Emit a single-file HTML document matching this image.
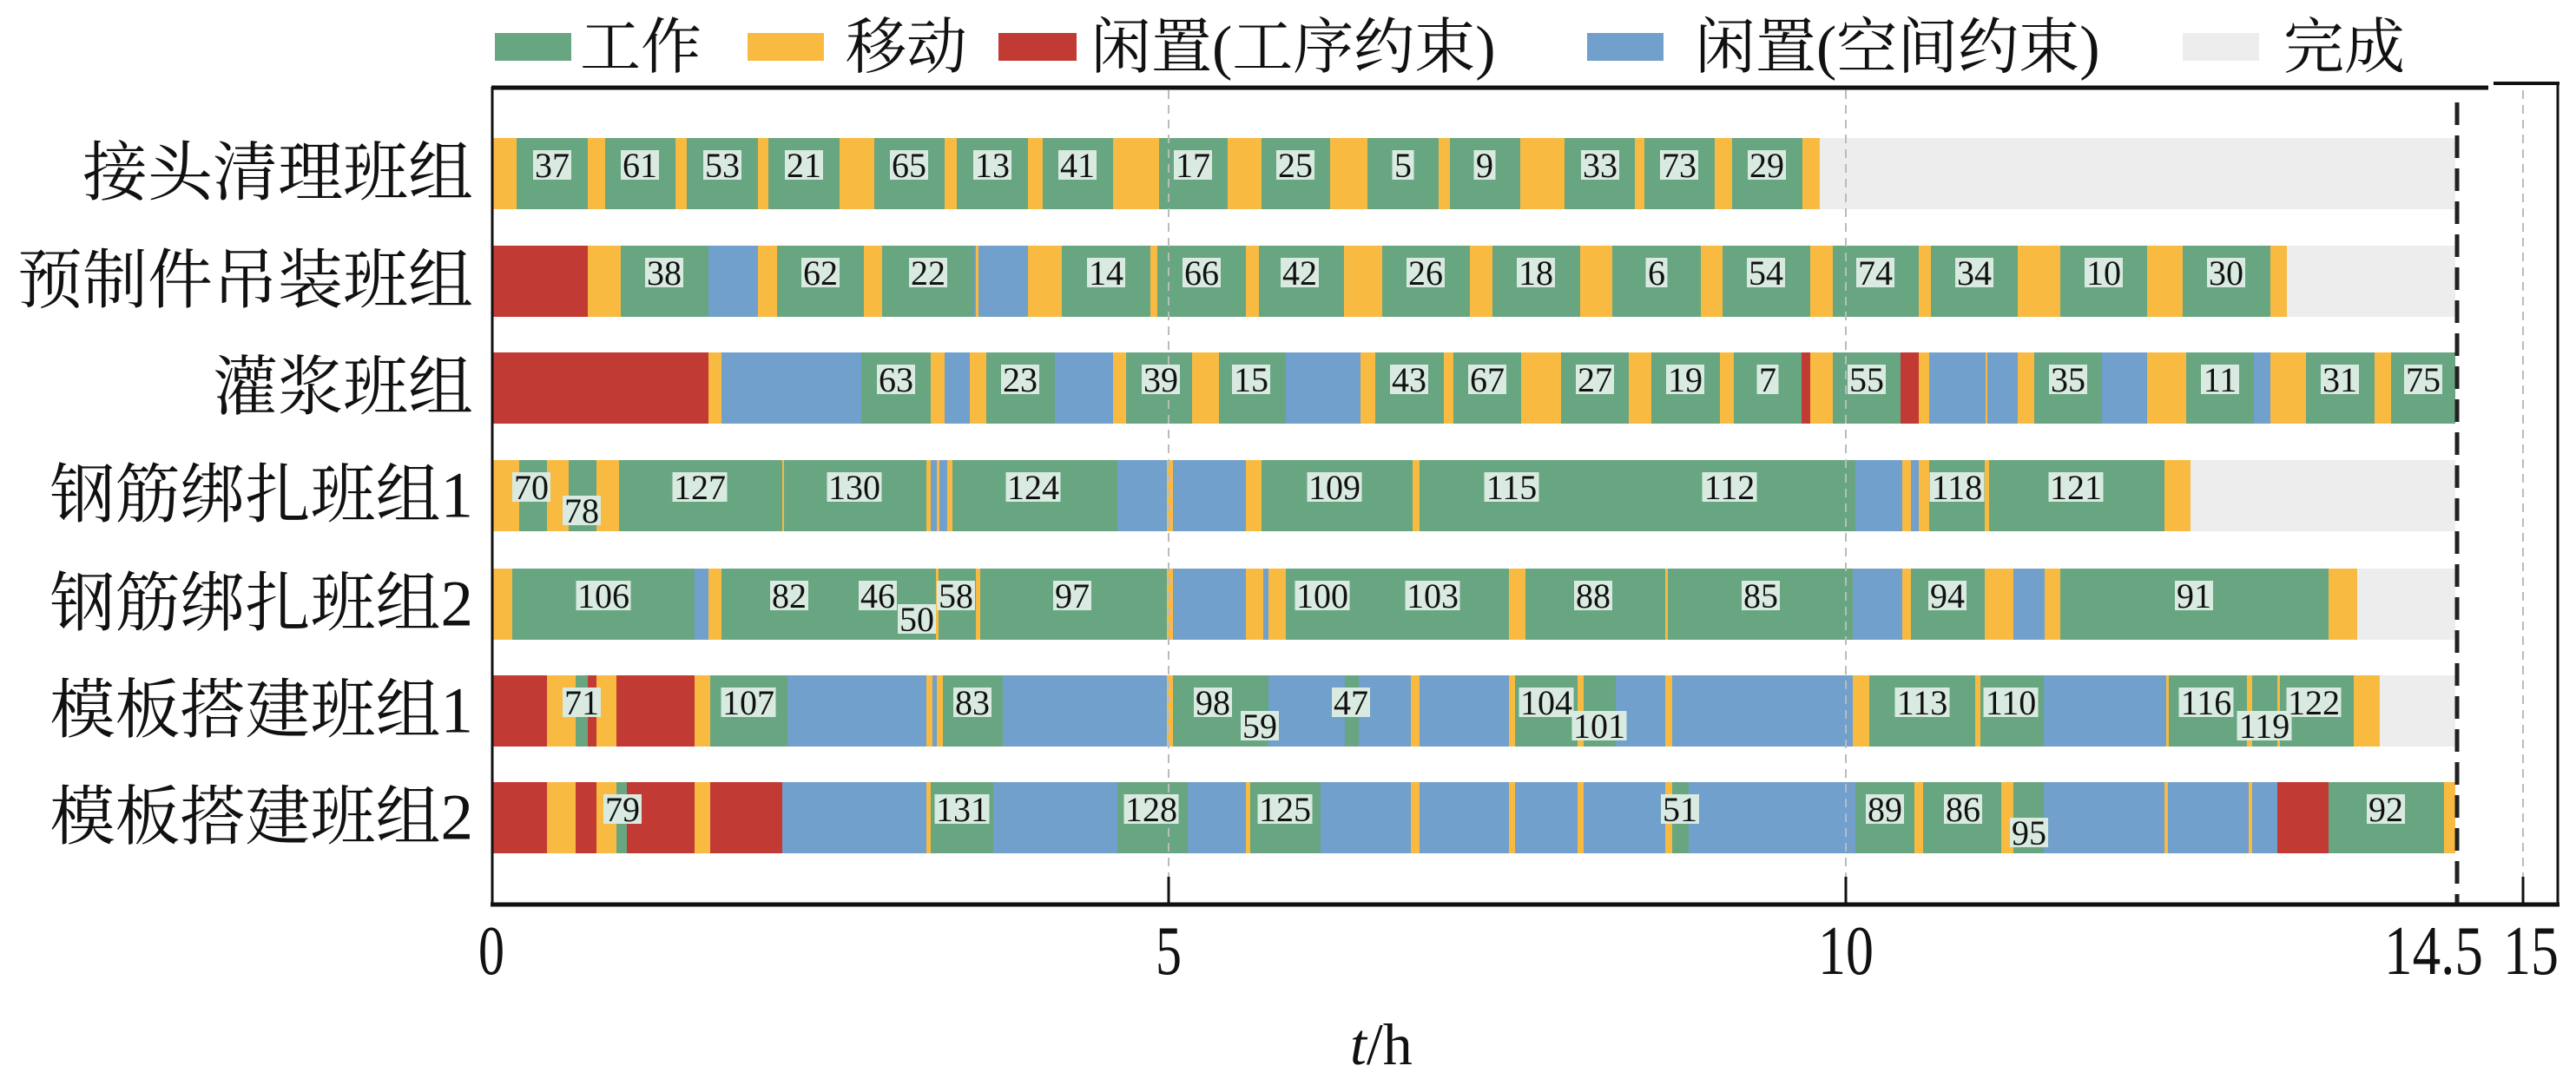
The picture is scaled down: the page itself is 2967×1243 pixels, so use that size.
<!DOCTYPE html>
<html><head><meta charset="utf-8"><style>
html,body{margin:0;padding:0;background:#fff;}
svg{display:block;}
.lg{font-family:"Liberation Serif","Noto Serif CJK SC",serif;font-size:70px;fill:#111;}
.rl{font-family:"Liberation Serif","Noto Serif CJK SC",serif;font-size:75px;fill:#111;text-anchor:end;dominant-baseline:central;}
.tk{font-family:"Liberation Serif",serif;font-size:80px;fill:#111;}
</style></head><body>
<svg id="s" width="2967" height="1243" viewBox="0 0 2967 1243" xmlns="http://www.w3.org/2000/svg">
<g id="bars"></g>
<line x1="1346" y1="104" x2="1346" y2="1040" stroke="#bbb" stroke-width="2" stroke-dasharray="10,7"/>
<line x1="2126" y1="104" x2="2126" y2="1040" stroke="#bbb" stroke-width="2" stroke-dasharray="10,7"/>
<line x1="2906" y1="104" x2="2906" y2="1040" stroke="#bbb" stroke-width="2" stroke-dasharray="10,7"/>
<line x1="2830" y1="118" x2="2830" y2="1040" stroke="#222" stroke-width="5" stroke-dasharray="26,12"/>
<g id="labels"></g>
<line x1="566" y1="101" x2="2866" y2="101" stroke="#111" stroke-width="5"/>
<line x1="2872" y1="96" x2="2948" y2="96" stroke="#111" stroke-width="4"/>
<line x1="2946" y1="96" x2="2946" y2="1044" stroke="#111" stroke-width="3"/>
<line x1="567" y1="100" x2="567" y2="1044" stroke="#111" stroke-width="3"/>
<line x1="565" y1="1042" x2="2948" y2="1042" stroke="#111" stroke-width="5"/>
<line x1="1346" y1="1010" x2="1346" y2="1042" stroke="#111" stroke-width="3"/>
<line x1="2126" y1="1010" x2="2126" y2="1042" stroke="#111" stroke-width="3"/>
<line x1="2906" y1="1010" x2="2906" y2="1042" stroke="#111" stroke-width="3"/>
<text class="tk" x="551" y="1122" textLength="30" lengthAdjust="spacingAndGlyphs">0</text>
<text class="tk" x="1331" y="1122" textLength="30" lengthAdjust="spacingAndGlyphs">5</text>
<text class="tk" x="2094" y="1122" textLength="64" lengthAdjust="spacingAndGlyphs">10</text>
<text class="tk" x="2746" y="1122" textLength="114" lengthAdjust="spacingAndGlyphs">14.5</text>
<text class="tk" x="2883" y="1122" textLength="64" lengthAdjust="spacingAndGlyphs">15</text>
<text x="1555" y="1226" style="font-family:'Liberation Serif',serif;font-size:68px;fill:#111;"><tspan font-style="italic">t</tspan>/h</text>
<text class="rl" x="545" y="200">接头清理班组</text>
<text class="rl" x="545" y="324">预制件吊装班组</text>
<text class="rl" x="545" y="447">灌浆班组</text>
<text class="rl" x="545" y="571">钢筋绑扎班组1</text>
<text class="rl" x="545" y="696">钢筋绑扎班组2</text>
<text class="rl" x="545" y="819">模板搭建班组1</text>
<text class="rl" x="545" y="942">模板搭建班组2</text>
<rect x="570" y="38" width="88" height="32" fill="#68a682"/>
<text class="lg" x="668" y="78">工作</text>
<rect x="861" y="38" width="88" height="32" fill="#f9ba42"/>
<text class="lg" x="974" y="78">移动</text>
<rect x="1150" y="38" width="90" height="32" fill="#c13a34"/>
<text class="lg" x="1256" y="78">闲置(工序约束)</text>
<rect x="1828" y="38" width="88" height="32" fill="#70a0cb"/>
<text class="lg" x="1952" y="78">闲置(空间约束)</text>
<rect x="2514" y="38" width="88" height="32" fill="#ededed"/>
<text class="lg" x="2630" y="78">完成</text>
</svg>
<script>
var C={g:"#68a682",y:"#f9ba42",r:"#c13a34",b:"#70a0cb",e:"#ededed"};
var tops=[159,283,406,530,655,778,901];
var R=[
"566 595 y,595 677 g,677 697 y,697 778 g,778 791 y,791 873 g,873 885 y,885 967 g,967 1007 y,1007 1088 g,1088 1102 y,1102 1184 g,1184 1201 y,1201 1282 g,1282 1335 y,1335 1414 g,1414 1453 y,1453 1532 g,1532 1575 y,1575 1657 g,1657 1670 y,1670 1751 g,1751 1802 y,1802 1883 g,1883 1894 y,1894 1975 g,1975 1995 y,1995 2076 g,2076 2096 y,2096 2828 e",
"566 677 r,677 715 y,715 816 g,816 873 b,873 895 y,895 995 g,995 1016 y,1016 1122 g,1122 1184 b,1124 1127 y,1184 1223 y,1223 1325 g,1325 1333 y,1333 1435 g,1435 1450 y,1450 1548 g,1548 1592 y,1592 1693 g,1693 1719 y,1719 1820 g,1820 1857 y,1857 1959 g,1959 1984 y,1984 2085 g,2085 2111 y,2111 2210 g,2210 2224 y,2224 2324 g,2324 2373 y,2373 2473 g,2473 2514 y,2514 2615 g,2615 2634 y,2634 2828 e",
"566 816 r,816 831 y,831 992 b,992 1072 g,1072 1088 y,1088 1117 b,1117 1136 y,1136 1215 g,1215 1282 b,1282 1297 y,1297 1373 g,1373 1404 y,1404 1481 g,1481 1567 b,1567 1584 y,1584 1663 g,1663 1674 y,1674 1752 g,1752 1798 y,1798 1876 g,1876 1902 y,1902 1981 g,1981 1997 y,1997 2075 g,2075 2085 r,2085 2111 y,2111 2189 g,2189 2210 r,2210 2222 y,2222 2324 b,2287 2289 y,2324 2343 y,2343 2421 g,2421 2473 b,2473 2518 y,2518 2596 g,2596 2615 b,2615 2656 y,2656 2735 g,2735 2754 y,2754 2828 g",
"566 598 y,598 630 g,630 655 y,655 687 g,687 713 y,713 1067 g,901 903 y,1067 1072 y,1072 1079 b,1079 1082 y,1082 1091 b,1091 1097 y,1097 1287 g,1287 1344 b,1344 1351 y,1351 1435 b,1435 1453 y,1453 1627 g,1627 1635 y,1635 2137 g,2137 2191 b,2191 2201 y,2201 2210 b,2210 2222 y,2222 2286 g,2286 2291 y,2291 2493 g,2493 2523 y,2523 2828 e",
"566 590 y,590 800 g,800 816 b,816 831 y,831 1078 g,1078 1081 y,1081 1124 g,1124 1129 y,1129 1344 g,1344 1351 y,1351 1435 b,1435 1455 y,1455 1461 b,1461 1481 y,1481 1738 g,1738 1757 y,1757 1918 g,1918 1921 y,1921 2134 g,2134 2191 b,2191 2201 y,2201 2286 g,2286 2319 y,2319 2355 b,2355 2373 y,2373 2682 g,2682 2715 y,2715 2828 e",
"566 630 r,630 663 y,663 677 g,677 687 r,687 710 y,710 800 r,800 818 y,818 907 g,907 1067 b,1067 1074 y,1074 1079 b,1079 1086 y,1086 1155 g,1155 1344 b,1344 1351 y,1351 1461 g,1461 1549 b,1549 1565 g,1565 1625 b,1625 1635 y,1635 1738 b,1738 1745 y,1745 1817 g,1817 1824 y,1824 1861 g,1861 1918 b,1918 1926 y,1926 2134 b,2134 2153 y,2153 2275 g,2275 2281 y,2281 2354 g,2354 2495 b,2495 2498 y,2498 2588 g,2588 2594 y,2594 2623 g,2623 2626 y,2626 2711 g,2711 2741 y,2741 2828 e",
"566 630 r,630 663 y,663 687 r,687 710 y,710 722 g,722 800 r,800 818 y,818 901 r,901 1067 b,1067 1072 y,1072 1144 g,1144 1287 b,1287 1368 g,1368 1435 b,1435 1440 y,1440 1521 g,1521 1625 b,1625 1635 y,1635 1738 b,1738 1745 y,1745 1817 b,1817 1824 y,1824 1918 b,1918 1926 y,1926 1945 g,1945 2137 b,2137 2205 g,2205 2215 y,2215 2305 g,2305 2319 y,2319 2354 g,2354 2493 b,2493 2497 y,2497 2590 b,2590 2594 y,2594 2623 b,2623 2682 r,2682 2815 g,2815 2828 y"
];
var L=[
"37 636,61 737,53 832,21 926,65 1047,13 1143,41 1241,17 1374,25 1492,5 1616,9 1710,33 1843,73 1934,29 2035",
"38 765,62 945,22 1069,14 1274,66 1384,42 1497,26 1642,18 1769,6 1908,54 2034,74 2160,34 2274,10 2423,30 2564",
"63 1032,23 1175,39 1337,15 1441,43 1623,67 1713,27 1837,19 1941,7 2036,55 2150,35 2382,11 2557,31 2695,75 2791",
"70 612,78 670 l,127 806,130 984,124 1190,109 1537,115 1741,112 1992,118 2254,121 2391",
"106 695,82 909,46 1011,50 1056 l,58 1101,97 1235,100 1523,103 1650,88 1835,85 2028,94 2243,91 2527",
"71 670,107 862,83 1120,98 1397,59 1451 l,47 1556,104 1781,101 1842 l,113 2214,110 2316,116 2541,119 2608 l,122 2665",
"79 717,131 1108,128 1326,125 1480,51 1935,89 2171,86 2261,95 2337 l,92 2748"
];
var ns="http://www.w3.org/2000/svg",bars=document.getElementById("bars"),lab=document.getElementById("labels");
function el(t,a,p){var e=document.createElementNS(ns,t);for(var k in a)e.setAttribute(k,a[k]);p.appendChild(e);return e;}
R.forEach(function(r,i){r.split(",").forEach(function(s){var p=s.split(" ");var x1=+p[0],x2=+p[1];
el("rect",{x:x1,y:tops[i],width:x2-x1,height:82,fill:C[p[2]]},bars);});});
L.forEach(function(r,i){r.split(",").forEach(function(s){var p=s.split(" ");var cx=+p[1];var cy=tops[i]+31+(p[2]?27:0);
var w=p[0].length*19+6;
el("rect",{x:cx-w/2,y:cy-17,width:w,height:34,fill:"#d9ebe0"},lab);
var t=el("text",{x:cx,y:cy+14,"text-anchor":"middle",style:"font-family:'Liberation Serif',serif;font-size:40px;fill:#111;"},lab);
t.textContent=p[0];});});
</script>
</body></html>
